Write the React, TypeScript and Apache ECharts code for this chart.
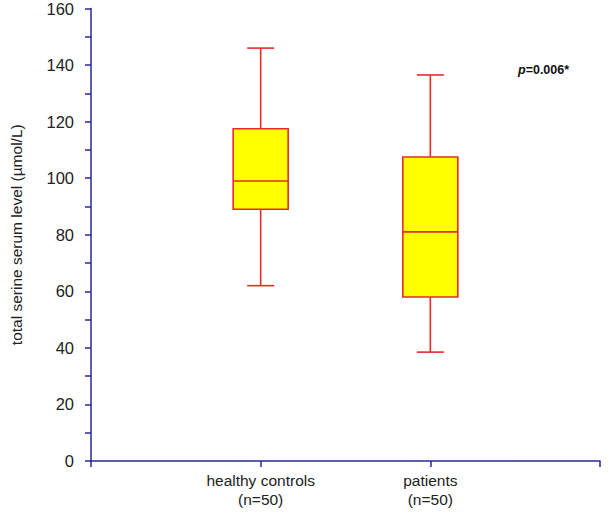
import React, { useEffect, useRef } from "react";
import * as echarts from "echarts";

const categories = ["", "healthy controls\n(n=50)", "patients\n(n=50)", ""];
// [category index, min, Q1, median, Q3, max]
const boxHealthy = [1, 62, 89, 99, 117.5, 146];
const boxPatients = [2, 38.5, 58, 81, 107.5, 136.5];
const yTicks = { min: 0, max: 160, interval: 10, labelStep: 20 };
const annotation = "0.006*";

export default function App() {
  const ref = useRef<HTMLDivElement>(null);
  useEffect(() => {
    const chart = echarts.init(ref.current!, null, { renderer: "svg" });
    const axisColor = "#27279a";
    const red = "#ea2a2a";
    const ff = "Liberation Sans, Arial, sans-serif";
    chart.setOption({
      animation: false,
      backgroundColor: "#ffffff",
      grid: { left: 86, right: 14, top: 8, bottom: 53, containLabel: false },
      xAxis: {
        type: "category",
        data: categories,
        boundaryGap: false,
        axisLine: { lineStyle: { color: axisColor, width: 1.5 } },
        axisTick: { show: true, length: 6, inside: false, alignWithLabel: true, lineStyle: { color: axisColor, width: 1.5 } },
        axisLabel: {
          color: "#222",
          fontSize: 15.5,
          lineHeight: 19,
          margin: 10,
          fontFamily: ff,
          interval: 0,
        },
        splitLine: { show: false },
      },
      yAxis: {
        type: "value",
        min: yTicks.min,
        max: yTicks.max,
        interval: yTicks.interval,
        name: "total serine serum level (\u00b5mol/L)",
        nameLocation: "middle",
        nameGap: 67,
        nameRotate: 90,
        nameTextStyle: { color: "#222", fontSize: 15.5, fontFamily: ff },
        axisLine: { show: true, lineStyle: { color: axisColor, width: 1.5 } },
        axisTick: { show: true, length: 6, lineStyle: { color: axisColor, width: 1.5 } },
        axisLabel: {
          color: "#222",
          fontSize: 16.5,
          margin: 17,
          fontFamily: ff,
          formatter: (v: number) => (v % yTicks.labelStep === 0 ? String(v) : ""),
        },
        splitLine: { show: false },
      },
      series: [
        {
          type: "custom",
          data: [boxHealthy, boxPatients],
          encode: { x: 0, y: [1, 2, 3, 4, 5] },
          renderItem: (params: any, api: any) => {
            const x = api.value(0);
            const pMin = api.coord([x, api.value(1)]);
            const pQ1 = api.coord([x, api.value(2)]);
            const pMed = api.coord([x, api.value(3)]);
            const pQ3 = api.coord([x, api.value(4)]);
            const pMax = api.coord([x, api.value(5)]);
            const cx = pMin[0];
            const bw = 55;
            const cw = 27;
            const ls = { stroke: red, lineWidth: 1.6, fill: null };
            return {
              type: "group",
              children: [
                { type: "line", shape: { x1: cx, y1: pMax[1], x2: cx, y2: pQ3[1] }, style: ls },
                { type: "line", shape: { x1: cx, y1: pQ1[1], x2: cx, y2: pMin[1] }, style: ls },
                { type: "line", shape: { x1: cx - cw / 2, y1: pMax[1], x2: cx + cw / 2, y2: pMax[1] }, style: ls },
                { type: "line", shape: { x1: cx - cw / 2, y1: pMin[1], x2: cx + cw / 2, y2: pMin[1] }, style: ls },
                {
                  type: "rect",
                  shape: { x: cx - bw / 2, y: pQ3[1], width: bw, height: pQ1[1] - pQ3[1] },
                  style: { fill: "#ffff00", stroke: red, lineWidth: 1.6 },
                },
                { type: "line", shape: { x1: cx - bw / 2, y1: pMed[1], x2: cx + bw / 2, y2: pMed[1] }, style: ls },
              ],
            };
          },
        },
      ],
      graphic: [
        {
          type: "text",
          left: 518,
          top: 63,
          style: {
            text: "{i|p}{b|=" + annotation + "}",
            rich: {
              i: { fontStyle: "italic", fontWeight: "bold", fontSize: 12.5, fill: "#111", fontFamily: ff },
              b: { fontWeight: "bold", fontSize: 12.5, fill: "#111", fontFamily: ff },
            },
          },
        },
      ],
    });
    return () => chart.dispose();
  }, []);
  return <div ref={ref} style={{ width: 614, height: 514, position: "absolute", left: 0, top: 0 }} />;
}
